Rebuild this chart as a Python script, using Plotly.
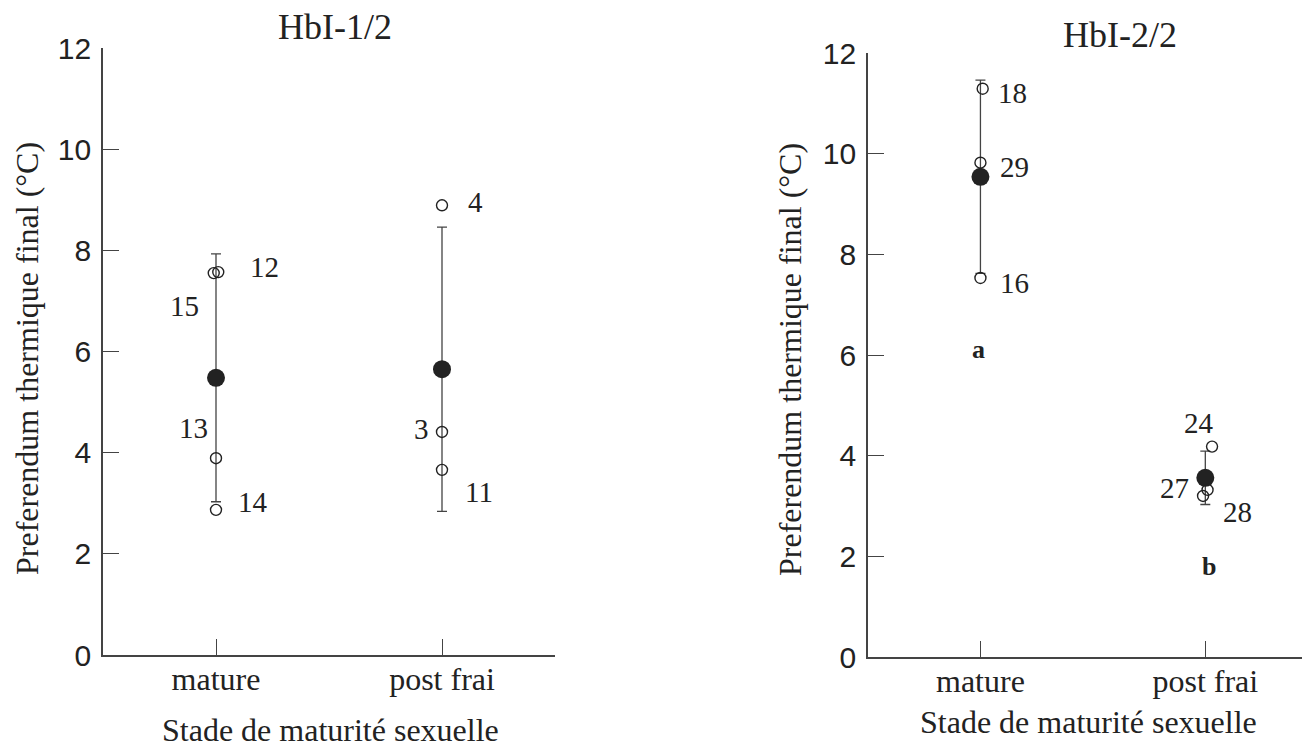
import plotly.graph_objects as go

# ---------------- data ----------------
categories = ["mature", "post frai"]
y_ticks = [0, 2, 4, 6, 8, 10, 12]

# Panel 1 : HbI-1/2
p1_mean = [5.48, 5.65]
p1_err = [2.45, 2.81]
p1_ind_cat = [0, 0, 0, 0, 1, 1, 1]
p1_ind_jit = [0.01, -0.01, 0.0, 0.0, 0.0, 0.0, 0.0]
p1_ind_val = [7.57, 7.55, 3.89, 2.87, 8.89, 4.41, 3.66]
p1_ind_lab = ["12", "15", "13", "14", "4", "3", "11"]

# Panel 2 : HbI-2/2
p2_mean = [9.54, 3.56]
p2_err = [1.92, 0.53]
p2_ind_cat = [0, 0, 0, 1, 1, 1]
p2_ind_jit = [0.01, 0.0, 0.0, 0.03, -0.01, 0.01]
p2_ind_val = [11.29, 9.82, 7.53, 4.18, 3.20, 3.32]
p2_ind_lab = ["18", "29", "16", "24", "27", "28"]
p2_letters = ["a", "b"]
p2_letter_y = [6.10, 1.79]

# label offsets in pixels (dx, dy) -- styling only
p1_lab_off = [(46, 5), (-29, -33), (-23, 30), (37, 8), (33, 3), (-21, 3), (37, -22)]
p2_lab_off = [(30, -4), (34, -4), (34, -5), (-13, 24), (-29, 8), (30, -22)]

SERIF = "Liberation Serif, Times New Roman, serif"
SANS = "Liberation Sans, Arial, sans-serif"
INK = "#222222"
AX = "#444444"

fig = go.Figure()

def add_panel(fig, xa, ya, mean, err, ic, ij, iv):
    fig.add_trace(go.Scatter(
        x=list(range(len(categories))), y=mean, mode="markers",
        xaxis=xa, yaxis=ya, showlegend=False,
        marker=dict(color=INK, size=18, line=dict(width=0)),
        error_y=dict(type="data", array=err, visible=True, color=AX,
                     thickness=1.3, width=5),
    ))
    fig.add_trace(go.Scatter(
        x=[c + j for c, j in zip(ic, ij)], y=iv, mode="markers",
        xaxis=xa, yaxis=ya, showlegend=False,
        marker=dict(symbol="circle-open", color=INK, size=11,
                    line=dict(width=1.4, color=INK)),
    ))

add_panel(fig, "x", "y", p1_mean, p1_err, p1_ind_cat, p1_ind_jit, p1_ind_val)
add_panel(fig, "x2", "y2", p2_mean, p2_err, p2_ind_cat, p2_ind_jit, p2_ind_val)

ann = []
for c, j, v, t, (dx, dy) in zip(p1_ind_cat, p1_ind_jit, p1_ind_val, p1_ind_lab, p1_lab_off):
    ann.append(dict(x=c + j, y=v, xref="x", yref="y", text=t, showarrow=False,
                    xanchor="center", yanchor="middle",
                    xshift=dx, yshift=dy, font=dict(family=SERIF, size=29, color=INK)))
for c, j, v, t, (dx, dy) in zip(p2_ind_cat, p2_ind_jit, p2_ind_val, p2_ind_lab, p2_lab_off):
    ann.append(dict(x=c + j, y=v, xref="x2", yref="y2", text=t, showarrow=False,
                    xanchor="center", yanchor="middle",
                    xshift=dx, yshift=dy, font=dict(family=SERIF, size=29, color=INK)))
for i, (t, v) in enumerate(zip(p2_letters, p2_letter_y)):
    ann.append(dict(x=i, y=v, xref="x2", yref="y2", text="<b>%s</b>" % t, showarrow=False,
                    xanchor="center", yanchor="middle",
                    xshift=(-2 if i == 0 else 4), font=dict(family=SERIF, size=26, color=INK)))

def paper_text(xc, yc, text, size, angle=0):
    return dict(x=xc / 1302, y=1 - yc / 750, xref="paper", yref="paper", text=text,
                showarrow=False, xanchor="center", yanchor="middle", textangle=angle,
                font=dict(family=SERIF, size=size, color=INK))

# titles
ann.append(paper_text(335, 27, "HbI-1/2", 36))
ann.append(paper_text(1120, 35, "HbI-2/2", 36))
# axis titles
ann.append(paper_text(330, 730, "Stade de maturité sexuelle", 32))
ann.append(paper_text(1088, 722, "Stade de maturité sexuelle", 32))
ann.append(paper_text(27, 359, "Preferendum thermique final (°C)", 32, -90))
ann.append(paper_text(790, 360, "Preferendum thermique final (°C)", 32, -90))

xcommon = dict(tickmode="array", tickvals=list(range(len(categories))), ticktext=categories,
               ticks="inside", ticklen=16, tickwidth=1.2, tickcolor=AX, automargin=False,
               showline=True, linecolor=AX, linewidth=1.6, showgrid=False, zeroline=False,
               tickfont=dict(family=SERIF, size=32, color=INK), ticklabelstandoff=-5)
ycommon = dict(tickmode="array", tickvals=y_ticks, range=[0, 12], automargin=False,
               ticks="inside", ticklen=16, tickwidth=1.2, tickcolor=AX,
               showline=True, linecolor=AX, linewidth=1.6, showgrid=False, zeroline=False,
               tickfont=dict(family=SANS, size=30, color=INK), ticklabelstandoff=4)

fig.update_layout(
    width=1302, height=750, margin=dict(l=0, r=0, t=0, b=0, pad=0),
    paper_bgcolor="white", plot_bgcolor="white", showlegend=False,
    xaxis=dict(xcommon, domain=[103 / 1302, 555 / 1302], range=[-0.5, 1.5], anchor="y"),
    yaxis=dict(ycommon, domain=[(750 - 655) / 750, (750 - 48) / 750], anchor="x"),
    xaxis2=dict(xcommon, domain=[868 / 1302, 1.0], range=[-0.5, 1.43], anchor="y2"),
    yaxis2=dict(ycommon, domain=[(750 - 657) / 750, (750 - 53) / 750], anchor="x2"),
    annotations=ann,
)

fig.write_html("out.html")
